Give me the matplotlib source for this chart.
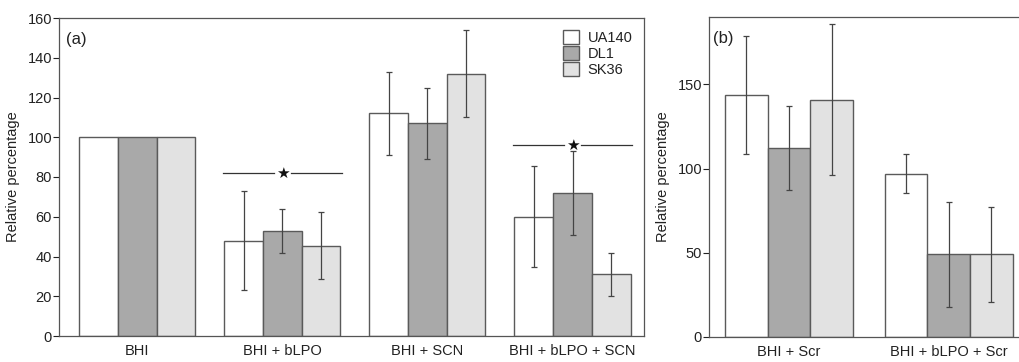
import matplotlib
matplotlib.use('Agg')
import matplotlib.pyplot as plt
import numpy as np

plt.rcParams['font.family'] = ['Liberation Sans', 'DejaVu Sans']

strains = ['UA140', 'DL1', 'SK36']
colors = ['#ffffff', '#a9a9a9', '#e2e2e2']

# panel (a)
groups_a = ['BHI', 'BHI + bLPO', 'BHI + SCN', 'BHI + bLPO + SCN']
vals_a = [[100, 48, 112, 60],
          [100, 53, 107, 72],
          [100, 45.5, 132, 31]]
err_a = [[0, 25, 21, 25.5],
         [0, 11, 18, 21],
         [0, 17, 22, 11]]
sig_a = {1: 82, 3: 96}

# panel (b)
groups_b = ['BHI + Scr', 'BHI + bLPO + Scr']
vals_b = [[143.5, 97],
          [112, 49],
          [141, 49]]
err_b = [[35, 11.5],
         [25, 31],
         [45, 28]]

edge = '#5a5a5a'
txt = '#222222'
fs = 10.5
W, H = 1019, 362
fig = plt.figure(figsize=(W / 100, H / 100), dpi=100)

ax1 = fig.add_axes([59 / W, (H - 336) / H, 585 / W, 318 / H])
ax2 = fig.add_axes([709 / W, (H - 337) / H, (W - 709) / W, 320 / H])

w = 0.8 / 3


def draw(ax, groups, vals, errs):
    x = np.arange(len(groups))
    for i in range(3):
        e = np.array(errs[i], dtype=float)
        ax.bar(x + (i - 1) * w, vals[i], w, color=colors[i], edgecolor=edge,
               linewidth=1.0, label=strains[i], zorder=2)
        m = e > 0
        ax.errorbar((x + (i - 1) * w)[m], np.array(vals[i])[m], yerr=e[m],
                    fmt='none', ecolor='#444444', elinewidth=0.9, capsize=2,
                    capthick=0.9, zorder=3)
    ax.set_xticks(x)
    ax.set_xticklabels(groups, fontsize=fs, color=txt)
    ax.tick_params(axis='x', length=0, pad=6)
    ax.tick_params(axis='y', labelsize=fs, colors=txt, length=4, width=0.8,
                   direction='out', pad=1)
    for s in ax.spines.values():
        s.set_color('#555555')
        s.set_linewidth(0.9)
    ax.set_ylabel('Relative percentage', fontsize=fs, color=txt, labelpad=5)


draw(ax1, groups_a, vals_a, err_a)
ax1.set_xlim(-0.541, 3.493)
ax1.set_ylim(0, 160)
ax1.set_yticks(np.arange(0, 161, 20))
for g, yv in sig_a.items():
    ax1.plot([g - 0.41, g - 0.06], [yv, yv], color='#333333', lw=0.9)
    ax1.plot([g + 0.06, g + 0.41], [yv, yv], color='#333333', lw=0.9)
    ax1.text(g, yv, '\u2605', ha='center', va='center', fontsize=11,
             color='#111111', family='DejaVu Sans')
ax1.text(0.012, 0.955, '(a)', transform=ax1.transAxes, fontsize=12,
         va='top', ha='left', color=txt)
ax1.legend(loc='upper right', frameon=False, fontsize=fs, handlelength=1.1,
           handleheight=1.1, labelspacing=0.1, handletextpad=0.6,
           borderaxespad=0.4, labelcolor=txt)

draw(ax2, groups_b, vals_b, err_b)
ax2.set_xlim(-0.5, 1.44)
ax2.set_ylim(0, 190)
ax2.set_yticks([0, 50, 100, 150])
ax2.spines['right'].set_visible(False)
ax2.text(0.012, 0.955, '(b)', transform=ax2.transAxes, fontsize=12,
         va='top', ha='left', color=txt)

fig.savefig('out.png', dpi=100)
